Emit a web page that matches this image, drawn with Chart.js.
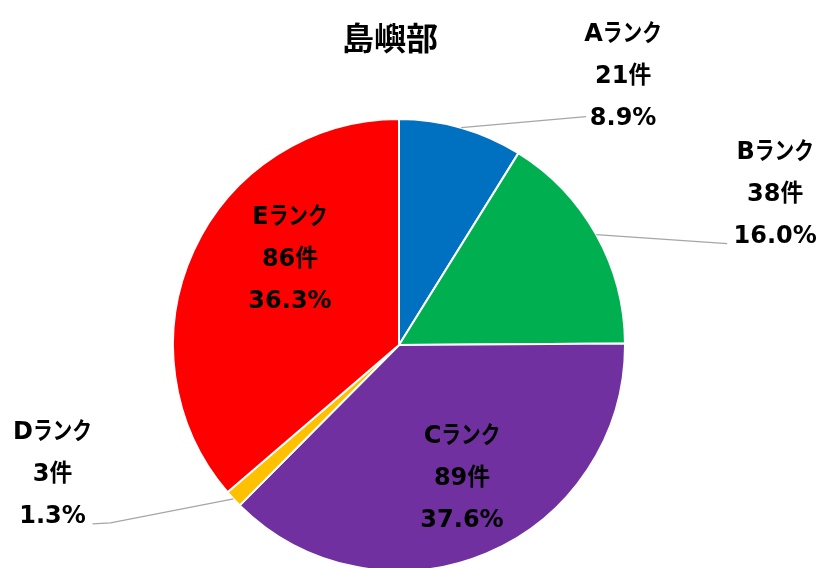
<!DOCTYPE html>
<html lang="ja">
<head>
<meta charset="utf-8">
<title>島嶼部</title>
<script src="https://cdn.jsdelivr.net/npm/chart.js@4/dist/chart.umd.min.js"></script>
<style>
  html, body { margin: 0; padding: 0; background: #ffffff; overflow: hidden; }
  canvas { display: block; }
</style>
</head>
<body>
<canvas id="chart" width="824" height="568"></canvas>
<script>
// 島嶼部 — ランク別件数
const chartTitle = '島嶼部';
const categories = ['Aランク', 'Bランク', 'Cランク', 'Dランク', 'Eランク'];
const counts = [21, 38, 89, 3, 86];
const colors = ['#0070C0', '#00B050', '#7030A0', '#FFC000', '#FF0000'];

const total = counts.reduce((a, b) => a + b, 0);
const percents = counts.map(v => (v / total * 100).toFixed(1) + '%');

// Label placement per slice: text block centre offset from the slice's
// outer-edge midpoint (outside labels) or from the pie centre (inside labels),
// and the leader line end relative to the text block centre.
const labelLayout = [
  { outside: true,  dx: 162,  dy: -53, lead: [[-37, 42]] },
  { outside: true,  dx: 179,  dy: -42, lead: [[-48, 51]] },
  { outside: false, dx: 63,   dy: 131 },
  { outside: true,  dx: -181, dy: -26, lead: [[58, 50], [40, 51]] },
  { outside: false, dx: -109, dy: -88 }
];

const LATIN_FONT = 'bold 24px "DejaVu Sans", Verdana, sans-serif';
const CJK_FONT = 'bold 24px "Noto Sans CJK JP", "Noto Sans CJK SC", sans-serif';

// Split a line into Latin / kana / kanji runs; kana are drawn slightly condensed.
function drawMixed(ctx, text, cx, cy) {
  const runs = text.match(/[\x00-\x7F]+|[\u30A0-\u30FF]+|[^\x00-\x7F\u30A0-\u30FF]+/g) || [];
  const parts = runs.map(r => {
    const latin = /^[\x00-\x7F]/.test(r);
    const kana = /^[\u30A0-\u30FF]/.test(r);
    const font = latin ? LATIN_FONT : CJK_FONT;
    const sx = latin ? 1 : (kana ? 0.82 : 0.95);
    ctx.font = font;
    return { r, font, sx, w: ctx.measureText(r).width * sx };
  });
  const totalW = parts.reduce((s, p) => s + p.w, 0);
  let x = cx - totalW / 2;
  const baseline = cy + 8.5;
  ctx.textAlign = 'left';
  ctx.textBaseline = 'alphabetic';
  for (const p of parts) {
    ctx.font = p.font;
    ctx.save();
    ctx.translate(x, baseline);
    ctx.scale(p.sx, 1);
    ctx.fillText(p.r, 0, 0);
    ctx.restore();
    x += p.w;
  }
}

const sliceLabels = {
  id: 'sliceLabels',
  afterDatasetsDraw(chart) {
    const ctx = chart.ctx;
    const arcs = chart.getDatasetMeta(0).data;
    ctx.save();
    arcs.forEach((arc, i) => {
      const lay = labelLayout[i];
      const mid = (arc.startAngle + arc.endAngle) / 2;
      let tx, ty;
      if (lay.outside) {
        const ex = arc.x + Math.cos(mid) * arc.outerRadius;
        const ey = arc.y + Math.sin(mid) * arc.outerRadius;
        tx = ex + lay.dx;
        ty = ey + lay.dy;
        ctx.strokeStyle = '#A6A6A6';
        ctx.lineWidth = 1.2;
        ctx.beginPath();
        ctx.moveTo(ex, ey);
        lay.lead.forEach(([lx, ly]) => ctx.lineTo(tx + lx, ty + ly));
        ctx.stroke();
      } else {
        tx = arc.x + lay.dx;
        ty = arc.y + lay.dy;
      }
      ctx.fillStyle = '#000000';
      const lines = [categories[i], counts[i] + '件', percents[i]];
      lines.forEach((t, k) => drawMixed(ctx, t, tx, ty + (k - 1) * 42));
    });
    ctx.restore();
  }
};

const titlePlugin = {
  id: 'titleText',
  afterDraw(chart) {
    const ctx = chart.ctx;
    ctx.save();
    ctx.fillStyle = '#000000';
    ctx.font = 'bold 32px "Noto Sans CJK JP", "Noto Sans CJK SC", sans-serif';
    ctx.textAlign = 'center';
    ctx.textBaseline = 'middle';
    ctx.fillText(chartTitle, 390, 38);
    ctx.restore();
  }
};

new Chart(document.getElementById('chart'), {
  type: 'pie',
  data: {
    labels: categories,
    datasets: [{
      data: counts,
      backgroundColor: colors,
      borderColor: '#ffffff',
      borderWidth: 2
    }]
  },
  options: {
    responsive: false,
    animation: false,
    radius: 226,
    layout: { padding: { left: 0, right: 26, top: 122, bottom: 0 } },
    plugins: {
      legend: { display: false },
      tooltip: { enabled: false },
      title: { display: false }
    }
  },
  plugins: [sliceLabels, titlePlugin]
});
</script>
</body>
</html>
